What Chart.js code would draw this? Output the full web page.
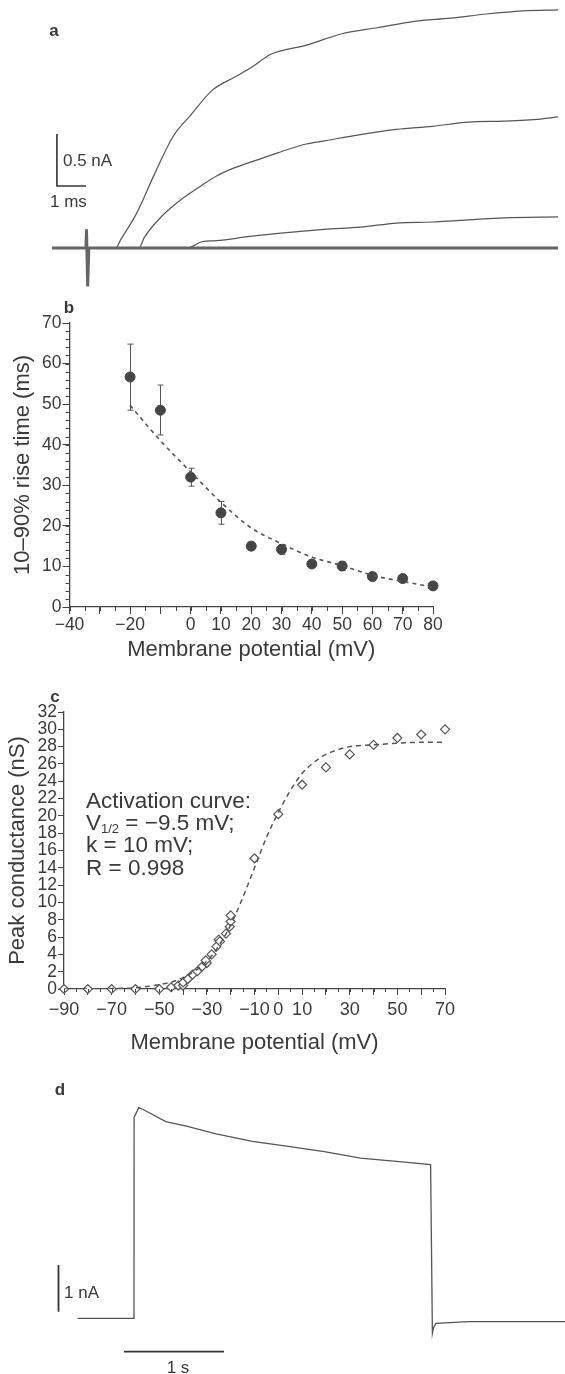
<!DOCTYPE html>
<html>
<head>
<meta charset="utf-8">
<script src="https://cdn.jsdelivr.net/npm/chart.js@4.4.1/dist/chart.umd.min.js"></script>
<style>
body { margin:0; background:#fff; width:565px; height:1374px; position:relative; overflow:hidden;
       font-family:"Liberation Sans", Arial, Helvetica, sans-serif; color:#3a3a3a; }
canvas { position:absolute; }
.t { position:absolute; white-space:nowrap; line-height:1; }
.pl { font-weight:bold; font-size:17px; }
.c { transform:translateX(-50%); }
sub { font-size:13px; vertical-align:-3px; line-height:0; }
</style>
</head>
<body>
<canvas id="ca" style="left:0;top:0;width:565px;height:290px" width="565" height="290"></canvas>
<canvas id="cb" style="left:0;top:290px;width:565px;height:373px" width="565" height="373"></canvas>
<canvas id="cc" style="left:0;top:670px;width:565px;height:386px" width="565" height="386"></canvas>
<canvas id="cd" style="left:0;top:1080px;width:565px;height:294px" width="565" height="294"></canvas>

<div class="t pl c" style="left:54px;top:22px">a</div>
<div class="t" style="left:63px;top:152px;font-size:17px">0.5 nA</div>
<div class="t" style="left:50px;top:193px;font-size:17px">1 ms</div>

<div class="t pl c" style="left:69px;top:299px">b</div>

<div class="t pl c" style="left:55px;top:688px">c</div>
<div class="t" style="left:86px;top:790px;font-size:22.5px">Activation curve:</div>
<div class="t" style="left:86px;top:812px;font-size:22.5px">V<sub>1/2</sub> = −9.5 mV;</div>
<div class="t" style="left:86px;top:834px;font-size:22.5px">k = 10 mV;</div>
<div class="t" style="left:86px;top:857px;font-size:22.5px">R = 0.998</div>

<div class="t pl c" style="left:60px;top:1081px">d</div>
<div class="t" style="left:64px;top:1284px;font-size:17px">1 nA</div>
<div class="t c" style="left:178px;top:1359px;font-size:17px">1 s</div>

<script>
// a: whole-cell currents (time ms, current nA)
const aBaseT = [0, 1.17, 1.19, 1.23, 1.27, 17.45];
const aBaseI = [0, 0, 0.18, -0.37, 0, 0];
const aT1 = [0, 2.2, 2.37, 2.93, 3.55, 4.17, 4.79, 5.54, 6.28, 6.9, 7.53, 8.77, 10.0, 11.25, 12.5, 13.74, 14.98, 16.22, 17.45];
const aI1 = [0, 0, 0.08, 0.34, 0.72, 1.07, 1.28, 1.52, 1.64, 1.74, 1.86, 1.95, 2.06, 2.12, 2.18, 2.21, 2.25, 2.28, 2.29];
const aT2 = [0, 3.0, 3.18, 3.8, 4.42, 5.04, 5.66, 6.28, 6.9, 7.53, 8.15, 8.77, 9.39, 10.63, 11.88, 13.12, 14.36, 15.6, 16.84, 17.45];
const aI2 = [0, 0, 0.10, 0.31, 0.46, 0.58, 0.69, 0.77, 0.83, 0.89, 0.95, 1.0, 1.03, 1.09, 1.14, 1.17, 1.21, 1.22, 1.24, 1.26];
const aT3 = [0, 4.67, 5.17, 5.66, 6.9, 8.15, 9.39, 10.63, 11.88, 13.12, 14.36, 15.6, 17.45];
const aI3 = [0, 0, 0.06, 0.07, 0.115, 0.15, 0.18, 0.20, 0.24, 0.25, 0.27, 0.29, 0.30];
const aBarT = [0.17, 0.17, 1.17];
const aBarI = [1.096, 0.596, 0.596];

// b: 10-90% rise time vs membrane potential
const bX = [-20, -10, 0, 10, 20, 30, 40, 50, 60, 70, 80];
const bY = [56.7, 48.5, 32.0, 23.2, 15.0, 14.2, 10.6, 10.1, 7.5, 7.0, 5.2];
const bHi = [64.8, 54.7, 34.2, 26.0, 16.0, 15.4, 11.2, 11.2, 8.0, 7.6, 5.6];
const bLo = [48.5, 42.4, 29.8, 20.4, 14.0, 13.0, 10.0, 9.0, 7.0, 6.4, 4.8];
const bFitX = [-20, -10, 0, 10, 20, 30, 40, 50, 60, 70, 80];
const bFitY = [49.7, 41, 33.3, 25.8, 19.5, 15.6, 12.3, 10.2, 7.8, 6.3, 4.9];
const bXLabels = [-40, -20, 0, 10, 20, 30, 40, 50, 60, 70, 80];

// c: peak conductance vs membrane potential
const cX = [-90, -80, -70, -60, -50, -45, -42, -40, -40, -38, -36, -34, -32, -30, -30.5, -28, -26, -25, -24.5, -22, -20.4, -20, -20, -10, 0, 10, 20, 30, 40, 50, 60, 70];
const cY = [0, 0, 0, 0, 0, 0.2, 0.4, 0.4, 0.75, 1.15, 1.65, 2.05, 2.6, 3.0, 3.3, 4.0, 4.9, 5.7, 5.5, 6.4, 7.2, 7.8, 8.5, 15.1, 20.2, 23.6, 25.6, 27.1, 28.2, 29.0, 29.4, 30.0];
const cFitX = [-90, -80, -70, -60, -50, -45, -40, -35, -30, -25, -20, -15, -10, -5, 0, 5, 10, 15, 20, 30, 40, 50, 60, 70];
const cFitY = [0, 0, 0.05, 0.15, 0.5, 0.8, 1.3, 2.1, 3.2, 5.0, 7.4, 10.5, 14, 17.5, 20.4, 22.9, 24.9, 26.2, 27.1, 28, 28.2, 28.4, 28.5, 28.5];
const cXLabels = [-90, -70, -50, -30, -10, 0, 10, 30, 50, 70];

// d: long pulse current (time s, current nA)
const dT = [0, 0.565, 0.566, 0.612, 0.666, 0.883, 1.099, 1.387, 1.748, 2.108, 2.468, 2.829, 3.189, 3.531, 3.549, 3.56, 3.585, 3.91, 4.875];
const dI = [0, 0, 4.3, 4.51, 4.46, 4.21, 4.11, 3.95, 3.79, 3.68, 3.57, 3.43, 3.36, 3.29, -0.32, -0.2, -0.11, -0.07, -0.07];
const dBarVT = [-0.19, -0.19];
const dBarVI = [0.14, 1.14];
const dBarHT = [0.465, 1.465];
const dBarHI = [-0.714, -0.714];

const ink = '#444';
const txt = '#3a3a3a';
const font = '"Liberation Sans", Arial, Helvetica, sans-serif';
const pts = (xs, ys) => xs.map((x, i) => ({ x, y: ys[i] }));
const minus = v => (v < 0 ? '\u2212' + Math.abs(v) : String(v));

const minorTicks = {
  id: 'minorTicks',
  afterDraw(chart, args, opts) {
    if (!opts.axes) return;
    const ctx = chart.ctx;
    ctx.save();
    ctx.strokeStyle = ink;
    ctx.lineWidth = 1;
    opts.axes.forEach(a => {
      const s = chart.scales[a.id];
      for (let v = s.min; v <= s.max + 1e-9; v += a.step) {
        const p = Math.round(s.getPixelForValue(v)) + 0.5;
        ctx.beginPath();
        if (a.id === 'x') { ctx.moveTo(p, s.top); ctx.lineTo(p, s.top + a.len); }
        else { ctx.moveTo(s.right, p); ctx.lineTo(s.right - a.len, p); }
        ctx.stroke();
      }
    });
    ctx.restore();
  }
};

const errorBars = {
  id: 'errorBars',
  beforeDatasetsDraw(chart, args, opts) {
    if (!opts.x) return;
    const ctx = chart.ctx, xs = chart.scales.x, ys = chart.scales.y;
    ctx.save();
    ctx.strokeStyle = '#555';
    ctx.lineWidth = 1;
    opts.x.forEach((v, i) => {
      const px = Math.round(xs.getPixelForValue(v)) + 0.5;
      const hi = ys.getPixelForValue(opts.hi[i]), lo = ys.getPixelForValue(opts.lo[i]);
      ctx.beginPath();
      ctx.moveTo(px, hi); ctx.lineTo(px, lo);
      ctx.moveTo(px - 3, hi); ctx.lineTo(px + 3, hi);
      ctx.moveTo(px - 3, lo); ctx.lineTo(px + 3, lo);
      ctx.stroke();
    });
    ctx.restore();
  }
};

const base = {
  responsive: false,
  animation: false,
  events: [],
  plugins: { legend: { display: false }, tooltip: { enabled: false } }
};

const hidden = (min, max) => ({ type: 'linear', display: false, min, max });
const axisTitle = (text, pad) => ({ display: true, text, color: txt, font: { family: font, size: 22 }, padding: pad });

// panel a
new Chart(document.getElementById('ca'), {
  type: 'line',
  data: {
    datasets: [
      { data: pts(aBaseT, aBaseI), borderColor: '#666', borderWidth: 3, pointRadius: 0, tension: 0 },
      { data: pts(aT1, aI1), borderColor: '#555', borderWidth: 1.2, pointRadius: 0, cubicInterpolationMode: 'monotone' },
      { data: pts(aT2, aI2), borderColor: '#555', borderWidth: 1.2, pointRadius: 0, cubicInterpolationMode: 'monotone' },
      { data: pts(aT3, aI3), borderColor: '#555', borderWidth: 1.2, pointRadius: 0, cubicInterpolationMode: 'monotone' },
      { data: pts(aBarT, aBarI), borderColor: '#333', borderWidth: 1.6, pointRadius: 0, tension: 0 }
    ]
  },
  options: { ...base, layout: { padding: 0 }, scales: { x: hidden(-52 / 29, 513 / 29), y: hidden(-42 / 104, 248 / 104) } }
});

// panel b
new Chart(document.getElementById('cb'), {
  type: 'scatter',
  data: {
    datasets: [
      { type: 'line', data: pts(bFitX, bFitY), borderColor: '#555', borderWidth: 1.6, borderDash: [4, 4],
        pointRadius: 0, cubicInterpolationMode: 'monotone' },
      { data: pts(bX, bY), backgroundColor: '#454545', borderColor: '#454545', pointRadius: 5, clip: false }
    ]
  },
  options: {
    ...base,
    layout: { padding: { top: 33, right: 132, left: 0, bottom: 0 } },
    plugins: { ...base.plugins,
      minorTicks: { axes: [{ id: 'x', step: 5, len: 4 }, { id: 'y', step: 2, len: 4 }] },
      errorBars: { x: bX, hi: bHi, lo: bLo } },
    scales: {
      x: {
        type: 'linear', min: -40, max: 80,
        afterFit: s => { s.height = 56; },
        border: { display: true, color: ink, width: 1.3 },
        grid: { drawOnChartArea: false, drawTicks: true, tickLength: 7, tickColor: ink },
        ticks: { stepSize: 10, autoSkip: false, maxRotation: 0, padding: 1, color: txt,
                 font: { family: font, size: 17.5 },
                 callback: v => (bXLabels.includes(v) ? minus(v) : '') },
        title: axisTitle('Membrane potential (mV)', { top: 0, bottom: 0 })
      },
      y: {
        type: 'linear', min: 0, max: 70,
        afterFit: s => { s.width = 69.5; },
        border: { display: true, color: ink, width: 1.3 },
        grid: { drawOnChartArea: false, drawTicks: true, tickLength: 7, tickColor: ink },
        ticks: { stepSize: 10, padding: 1, color: txt, font: { family: font, size: 17.5 } },
        title: axisTitle('10–90% rise time (ms)', { top: 10, bottom: 0 })
      }
    }
  },
  plugins: [minorTicks, errorBars]
});

// panel c
new Chart(document.getElementById('cc'), {
  type: 'scatter',
  data: {
    datasets: [
      { type: 'line', data: pts(cFitX, cFitY), borderColor: '#555', borderWidth: 1.5, borderDash: [5, 4],
        pointRadius: 0, cubicInterpolationMode: 'monotone' },
      { data: pts(cX, cY), pointStyle: 'rectRot', pointRadius: 4.5, backgroundColor: '#fff',
        borderColor: '#555', borderWidth: 1.2, clip: false }
    ]
  },
  options: {
    ...base,
    layout: { padding: { top: 42, right: 120, left: 0, bottom: 0 } },
    plugins: { ...base.plugins,
      minorTicks: { axes: [{ id: 'x', step: 5, len: 3 }] } },
    scales: {
      x: {
        type: 'linear', min: -90, max: 70,
        afterFit: s => { s.height = 67; },
        border: { display: true, color: ink, width: 1.3 },
        grid: { drawOnChartArea: false, drawTicks: true, tickLength: 6, tickColor: ink },
        ticks: { stepSize: 10, autoSkip: false, maxRotation: 0, padding: 4, color: txt,
                 font: { family: font, size: 18 },
                 callback: v => (cXLabels.includes(v) ? minus(v) : '') },
        title: axisTitle('Membrane potential (mV)', { top: 0, bottom: 0 })
      },
      y: {
        type: 'linear', min: 0, max: 32,
        afterFit: s => { s.width = 64; },
        border: { display: true, color: ink, width: 1.3 },
        grid: { drawOnChartArea: false, drawTicks: true, tickLength: 6, tickColor: ink },
        ticks: { stepSize: 2, autoSkip: false, padding: 1, color: txt,
                 font: { family: font, size: 17.5, lineHeight: 1 } },
        title: axisTitle('Peak conductance (nS)', { top: 5, bottom: 0 })
      }
    }
  },
  plugins: [minorTicks]
});

// panel d
new Chart(document.getElementById('cd'), {
  type: 'line',
  data: {
    datasets: [
      { data: pts(dT, dI), borderColor: '#555', borderWidth: 1.3, pointRadius: 0, tension: 0 },
      { data: pts(dBarVT, dBarVI), borderColor: '#333', borderWidth: 1.8, pointRadius: 0, tension: 0 },
      { data: pts(dBarHT, dBarHI), borderColor: '#333', borderWidth: 1.8, pointRadius: 0, tension: 0 }
    ]
  },
  options: { ...base, layout: { padding: 0 }, scales: { x: hidden(-0.775, 4.875), y: hidden(-55.7 / 46.7, 238.3 / 46.7) } }
});
</script>
</body>
</html>
